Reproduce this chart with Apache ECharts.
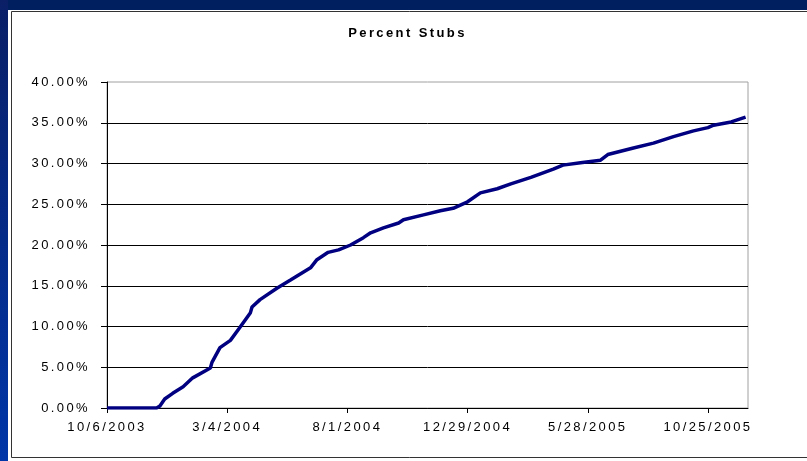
<!DOCTYPE html>
<html>
<head>
<meta charset="utf-8">
<script src="https://cdn.jsdelivr.net/npm/echarts@6/dist/echarts.min.js"></script>
<style>
  html, body { margin: 0; padding: 0; width: 807px; height: 461px; overflow: hidden; background: #001f5f; }
  #strip { position: absolute; left: 0; top: 0; width: 8px; height: 461px; background: linear-gradient(#0a1f66, #0036a8); }
  #chart { position: absolute; left: 8px; top: 10px; width: 799px; height: 451px; background: #ffffff; }
</style>
</head>
<body>
<div id="strip"></div>
<div id="chart"></div>
<script>
// ---- data ----
const baseDate = '2003-10-06';
const dates = [
  '2003-10-06','2003-12-07','2003-12-11','2003-12-17','2003-12-27','2004-01-09','2004-01-21',
  '2004-02-12','2004-02-14','2004-02-24','2004-03-08','2004-03-20','2004-04-02','2004-04-04',
  '2004-04-14','2004-05-05','2004-05-22','2004-06-16','2004-06-24','2004-07-08','2004-07-21',
  '2004-08-05','2004-08-21','2004-08-30','2004-09-15','2004-10-04','2004-10-10','2004-11-04',
  '2004-11-25','2004-12-11','2004-12-29','2005-01-14','2005-02-04','2005-02-21','2005-03-18',
  '2005-04-15','2005-04-27','2005-05-19','2005-06-13','2005-06-22','2005-07-08','2005-07-24',
  '2005-08-18','2005-09-12','2005-10-07','2005-10-25','2005-11-01','2005-11-23','2005-12-11'
];
const percentStubs = [
  0.0, 0.0, 0.25, 1.1, 1.8, 2.6, 3.7,
  4.9, 5.6, 7.4, 8.3, 9.9, 11.7, 12.4,
  13.3, 14.7, 15.7, 17.2, 18.2, 19.1, 19.4,
  20.0, 20.9, 21.5, 22.1, 22.7, 23.1, 23.7,
  24.2, 24.5, 25.3, 26.4, 26.9, 27.5, 28.3,
  29.3, 29.8, 30.1, 30.4, 31.1, 31.5, 31.9,
  32.5, 33.3, 34.0, 34.4, 34.7, 35.1, 35.7
];
const xTickDays = [0, 150, 300, 450, 600, 750];   // 10/6/2003 ... 10/25/2005
const xMaxDays = 800;
const yTicks = [0, 5, 10, 15, 20, 25, 30, 35, 40];

// Excel-like spaced lettering
(function () {
  const P = CanvasRenderingContext2D.prototype;
  const f = P.fillText, m = P.measureText;
  P.fillText = function () { try { this.letterSpacing = '2.4px'; } catch (e) {} return f.apply(this, arguments); };
  P.measureText = function () { try { this.letterSpacing = '2.4px'; } catch (e) {} return m.apply(this, arguments); };
})();

const DAY = 86400000;
const t0 = Date.parse(baseDate + 'T00:00:00Z');
function dayOffset(s) { return Math.round((Date.parse(s + 'T00:00:00Z') - t0) / DAY); }
function fmtDay(d) {
  const dt = new Date(t0 + d * DAY);
  return (dt.getUTCMonth() + 1) + '/' + dt.getUTCDate() + '/' + dt.getUTCFullYear();
}
const seriesData = dates.map((d, i) => [dayOffset(d), percentStubs[i]]);

const chart = echarts.init(document.getElementById('chart'), null, { renderer: 'canvas' });
const font = 'Liberation Sans, Arial, sans-serif';
chart.setOption({
  animation: false,
  backgroundColor: '#ffffff',
  title: {
    text: 'Percent Stubs',
    left: 'center',
    top: 11,
    textStyle: { fontFamily: font, fontSize: 13, fontWeight: 'bold', color: '#000' }
  },
  graphic: [{
    type: 'rect',
    shape: { x: 3.5, y: 1.5, width: 900, height: 446 },
    style: { fill: null, stroke: '#333', lineWidth: 1 },
    silent: true
  }],
  grid: {
    left: 99, top: 72, right: 59, bottom: 53,
    show: true, backgroundColor: '#fff', borderColor: '#a0a0a0', borderWidth: 1
  },
  xAxis: {
    type: 'value',
    min: 0, max: xMaxDays, interval: 150,
    axisLine: { show: true, lineStyle: { color: '#000', width: 1 } },
    axisTick: { show: true, length: 5, lineStyle: { color: '#000' }, customValues: xTickDays },
    axisLabel: {
      customValues: xTickDays,
      formatter: v => fmtDay(v),
      margin: 12,
      fontFamily: font, fontSize: 13, color: '#000'
    },
    splitLine: { show: false }
  },
  yAxis: {
    type: 'value',
    min: yTicks[0], max: yTicks[yTicks.length - 1], interval: 5,
    axisLine: { show: true, lineStyle: { color: '#000', width: 1 } },
    axisTick: { show: true, length: 6, lineStyle: { color: '#000' } },
    axisLabel: {
      formatter: v => v.toFixed(2) + '%',
      margin: 17,
      fontFamily: font, fontSize: 13, color: '#000'
    },
    splitLine: { show: true, showMaxLine: false, lineStyle: { color: '#000', width: 1 } }
  },
  series: [{
    type: 'line',
    data: seriesData,
    showSymbol: false,
    lineStyle: { color: '#000080', width: 3.5 },
    z: 5
  }]
});
</script>
</body>
</html>
